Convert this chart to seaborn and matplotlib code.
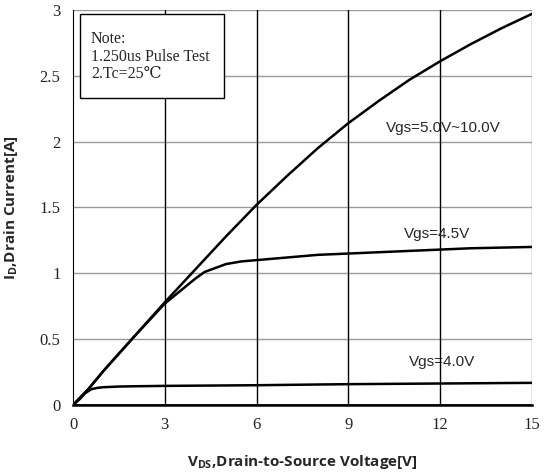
import matplotlib
matplotlib.use("Agg")
import matplotlib.pyplot as plt
import seaborn as sns
import pandas as pd
from matplotlib.patches import Rectangle

# Output characteristics
vds_high = [0, 0.5, 1, 2, 3, 4, 5, 6, 7, 8, 9, 10, 11, 12, 13, 14, 15]
id_high = [0, 0.12, 0.26, 0.52, 0.78, 1.03, 1.28, 1.52, 1.74, 1.95, 2.14, 2.31, 2.47, 2.61, 2.74, 2.86, 2.97]

vds_45 = [0, 0.5, 1, 2, 3, 4, 4.3, 5, 5.5, 6, 7, 8, 9, 10, 11, 12, 13, 14, 15]
id_45 = [0, 0.12, 0.26, 0.52, 0.77, 0.96, 1.01, 1.07, 1.09, 1.10, 1.12, 1.14, 1.15, 1.16, 1.17, 1.18, 1.19, 1.195, 1.20]

vds_40 = [0, 0.2, 0.4, 0.6, 0.8, 1, 1.5, 2, 3, 6, 9, 12, 15]
id_40 = [0, 0.04, 0.09, 0.12, 0.13, 0.135, 0.14, 0.142, 0.145, 0.15, 0.158, 0.163, 0.168]

vds_off = [0, 15]
id_off = [0, 0]

x_ticks = [0, 3, 6, 9, 12, 15]
y_ticks = [0, 0.5, 1, 1.5, 2, 2.5, 3]
y_tick_labels = ["0", "0.5", "1", "1.5", "2", "2.5", "3"]

curve_labels = ["Vgs=5.0V~10.0V", "Vgs=4.5V", "Vgs=4.0V"]
label_pos = [(12.1, 2.10), (11.9, 1.30), (12.05, 0.33)]

note_lines = ["Note:", "1.250us Pulse Test", "2.Tc=25\u2103"]

sns.set_style("white")

frames = []
for name, xs, ys in [("high", vds_high, id_high), ("45", vds_45, id_45),
                     ("40", vds_40, id_40), ("off", vds_off, id_off)]:
    frames.append(pd.DataFrame({"vds": xs, "id": ys, "curve": name}))
df = pd.concat(frames, ignore_index=True)

fig = plt.figure(figsize=(5.45, 4.72), dpi=100)
ax = fig.add_axes([0.134, 0.142, 0.842, 0.837])

# grid: gray horizontal, black vertical
for y in y_ticks[1:]:
    ax.axhline(y, color="#999999", lw=1.0, zorder=1)
for x in x_ticks[1:]:
    ax.axvline(x, color="#8c8c8c" if x == 15 else "black", lw=1.0, zorder=1)

sns.lineplot(data=df, x="vds", y="id", units="curve", estimator=None,
             color="black", lw=1.8, sort=False, ax=ax, zorder=3)

ax.set_xlim(0, 15)
ax.set_ylim(0, 3)
ax.set_xticks(x_ticks)
ax.set_yticks(y_ticks)
ax.set_yticklabels(y_tick_labels)
ax.tick_params(direction="out", length=4, width=1, color="black",
               labelsize=12, pad=5)
for lbl in ax.get_xticklabels() + ax.get_yticklabels():
    lbl.set_family("Liberation Serif")

for side in ["top", "right"]:
    ax.spines[side].set_visible(False)
ax.spines["left"].set_color("black")
ax.spines["bottom"].set_color("black")
ax.spines["bottom"].set_linewidth(1.8)

for txt, (tx, ty) in zip(curve_labels, label_pos):
    ax.text(tx, ty, txt, fontsize=11, family="Liberation Sans", ha="center",
            va="center", zorder=4)

# note box
ax.add_patch(Rectangle((0.23, 2.33), 4.70, 0.64, fc="white", ec="black",
                       lw=1, zorder=5))
for i, line in enumerate(note_lines):
    ax.text(0.59, 2.78 - i * 0.135, line, fontsize=11.5,
            family=["Liberation Serif", "DejaVu Serif"], va="center",
            ha="left", zorder=6)

ax.set_xlabel(r"V$_{\mathregular{DS}}$,Drain-to-Source Voltage[V]", fontsize=11,
              fontweight="bold", family="Open Sans", labelpad=14)
ax.set_ylabel(r"I$_{\mathregular{D}}$,Drain Current[A]", fontsize=11,
              fontweight="bold", family="Open Sans", labelpad=14)

fig.savefig("out.png", dpi=100)
